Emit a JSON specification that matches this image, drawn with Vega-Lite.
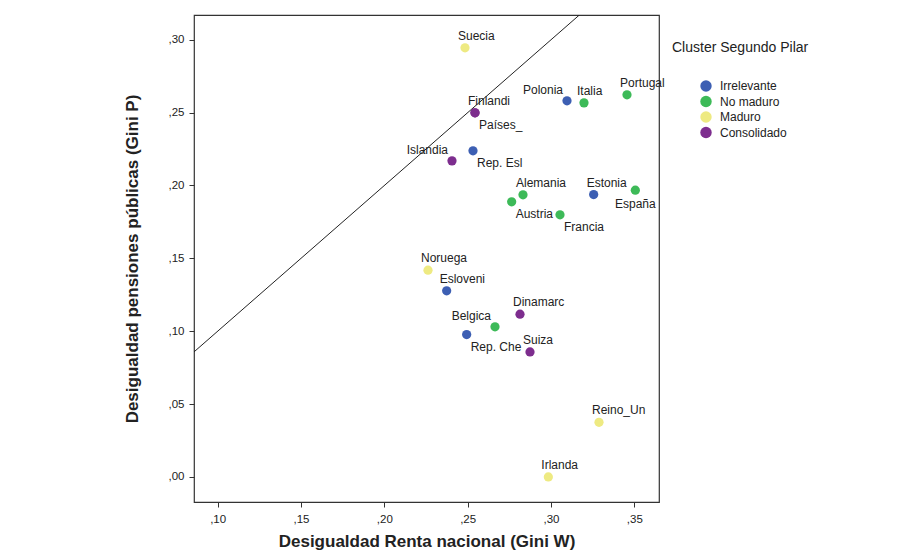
{
  "$schema": "https://vega.github.io/schema/vega-lite/v6.json",
  "width": 465,
  "height": 487,
  "autosize": "none",
  "padding": {"left": 194, "top": 15, "right": 245, "bottom": 50},
  "background": "white",
  "config": {
    "font": "Liberation Sans",
    "view": {"stroke": "#333333", "strokeWidth": 1.2},
    "axis": {
      "grid": false,
      "domain": false,
      "tickColor": "#333333",
      "tickSize": 5,
      "labelColor": "#222222",
      "labelFontSize": 11.5,
      "labelFont": "Liberation Sans",
      "titleFont": "Liberation Sans",
      "titleFontSize": 17,
      "titleFontWeight": "bold",
      "titleColor": "#222222"
    }
  },
  "datasets": {
    "paises": [
      {"pais": "Suecia", "giniW": 0.2484, "giniP": 0.2945, "cluster": "Maduro", "pos": "above"},
      {"pais": "Finlandi", "giniW": 0.2544, "giniP": 0.2499, "cluster": "Consolidado", "pos": "above"},
      {"pais": "Países_", "giniW": 0.2544, "giniP": 0.2499, "cluster": "Consolidado", "pos": "belowright"},
      {"pais": "Islandia", "giniW": 0.2406, "giniP": 0.2169, "cluster": "Consolidado", "pos": "aboveleft"},
      {"pais": "Rep. Esl", "giniW": 0.2532, "giniP": 0.2238, "cluster": "Irrelevante", "pos": "belowright"},
      {"pais": "Polonia", "giniW": 0.3096, "giniP": 0.2581, "cluster": "Irrelevante", "pos": "aboveleft"},
      {"pais": "Italia", "giniW": 0.3198, "giniP": 0.2567, "cluster": "No maduro", "pos": "above"},
      {"pais": "Portugal", "giniW": 0.3456, "giniP": 0.2622, "cluster": "No maduro", "pos": "above"},
      {"pais": "Alemania", "giniW": 0.2832, "giniP": 0.1936, "cluster": "No maduro", "pos": "above"},
      {"pais": "Austria", "giniW": 0.2764, "giniP": 0.1888, "cluster": "No maduro", "pos": "belowright"},
      {"pais": "Francia", "giniW": 0.3054, "giniP": 0.1799, "cluster": "No maduro", "pos": "belowright"},
      {"pais": "Estonia", "giniW": 0.3256, "giniP": 0.1938, "cluster": "Irrelevante", "pos": "above"},
      {"pais": "España", "giniW": 0.3506, "giniP": 0.1968, "cluster": "No maduro", "pos": "below"},
      {"pais": "Noruega", "giniW": 0.2262, "giniP": 0.1419, "cluster": "Maduro", "pos": "above"},
      {"pais": "Esloveni", "giniW": 0.2374, "giniP": 0.1277, "cluster": "Irrelevante", "pos": "above"},
      {"pais": "Dinamarc", "giniW": 0.2814, "giniP": 0.1117, "cluster": "Consolidado", "pos": "above"},
      {"pais": "Belgica", "giniW": 0.2664, "giniP": 0.1030, "cluster": "No maduro", "pos": "aboveleft"},
      {"pais": "Rep. Che", "giniW": 0.2494, "giniP": 0.0977, "cluster": "Irrelevante", "pos": "belowright"},
      {"pais": "Suiza", "giniW": 0.2874, "giniP": 0.0858, "cluster": "Consolidado", "pos": "above"},
      {"pais": "Reino_Un", "giniW": 0.3288, "giniP": 0.0375, "cluster": "Maduro", "pos": "above"},
      {"pais": "Irlanda", "giniW": 0.2984, "giniP": 0.0, "cluster": "Maduro", "pos": "above"}
    ],
    "diagonal": [
      {"giniW": 0.0858, "giniP": 0.0858},
      {"giniW": 0.317, "giniP": 0.317}
    ]
  },
  "layer": [
    {
      "data": {"name": "diagonal"},
      "mark": {"type": "line", "color": "#222222", "strokeWidth": 1, "clip": true},
      "encoding": {
        "x": {
          "field": "giniW", "type": "quantitative",
          "scale": {"domain": [0.0858, 0.3648], "nice": false, "zero": false},
          "axis": {
            "title": "Desigualdad Renta nacional (Gini W)",
            "values": [0.10, 0.15, 0.20, 0.25, 0.30, 0.35],
            "labelExpr": "replace(format(datum.value, '.2f'), '0.', ',')",
            "labelPadding": 6,
            "titlePadding": 9
          }
        },
        "y": {
          "field": "giniP", "type": "quantitative",
          "scale": {"domain": [-0.0172, 0.317], "nice": false, "zero": false},
          "axis": {
            "title": "Desigualdad pensiones públicas (Gini P)",
            "values": [0.0, 0.05, 0.10, 0.15, 0.20, 0.25, 0.30],
            "labelExpr": "replace(format(datum.value, '.2f'), '0.', ',')",
            "labelPadding": 5,
            "titlePadding": 27
          }
        }
      }
    },
    {
      "data": {"name": "paises"},
      "mark": {"type": "circle", "size": 85, "opacity": 1},
      "encoding": {
        "x": {"field": "giniW", "type": "quantitative"},
        "y": {"field": "giniP", "type": "quantitative"},
        "color": {
          "field": "cluster", "type": "nominal",
          "scale": {
            "domain": ["Irrelevante", "No maduro", "Maduro", "Consolidado"],
            "range": ["#3d5fb3", "#3dba58", "#eeea82", "#7d2d8e"]
          },
          "legend": {
            "title": "Cluster Segundo Pilar",
            "orient": "none",
            "legendX": 478,
            "legendY": 26,
            "titleFontSize": 14,
            "titleFontWeight": "normal",
            "titleColor": "#222222",
            "titlePadding": 25,
            "symbolType": "circle",
            "symbolSize": 130,
            "symbolOffset": 28,
            "symbolStrokeWidth": 0,
            "symbolOpacity": 1,
            "labelFontSize": 12,
            "labelColor": "#222222",
            "labelOffset": 8,
            "rowPadding": 3.5
          }
        }
      }
    },
    {
      "data": {"name": "paises"},
      "transform": [{"filter": "datum.pos === 'above'"}],
      "mark": {"type": "text", "align": "left", "baseline": "middle", "dx": -7, "dy": -12, "fontSize": 12, "color": "#222222"},
      "encoding": {
        "x": {"field": "giniW", "type": "quantitative"},
        "y": {"field": "giniP", "type": "quantitative"},
        "text": {"field": "pais"}
      }
    },
    {
      "data": {"name": "paises"},
      "transform": [{"filter": "datum.pos === 'aboveleft'"}],
      "mark": {"type": "text", "align": "right", "baseline": "middle", "dx": -4, "dy": -11, "fontSize": 12, "color": "#222222"},
      "encoding": {
        "x": {"field": "giniW", "type": "quantitative"},
        "y": {"field": "giniP", "type": "quantitative"},
        "text": {"field": "pais"}
      }
    },
    {
      "data": {"name": "paises"},
      "transform": [{"filter": "datum.pos === 'belowright'"}],
      "mark": {"type": "text", "align": "left", "baseline": "middle", "dx": 4, "dy": 12, "fontSize": 12, "color": "#222222"},
      "encoding": {
        "x": {"field": "giniW", "type": "quantitative"},
        "y": {"field": "giniP", "type": "quantitative"},
        "text": {"field": "pais"}
      }
    },
    {
      "data": {"name": "paises"},
      "transform": [{"filter": "datum.pos === 'below'"}],
      "mark": {"type": "text", "align": "center", "baseline": "middle", "dx": 0, "dy": 14, "fontSize": 12, "color": "#222222"},
      "encoding": {
        "x": {"field": "giniW", "type": "quantitative"},
        "y": {"field": "giniP", "type": "quantitative"},
        "text": {"field": "pais"}
      }
    }
  ]
}
